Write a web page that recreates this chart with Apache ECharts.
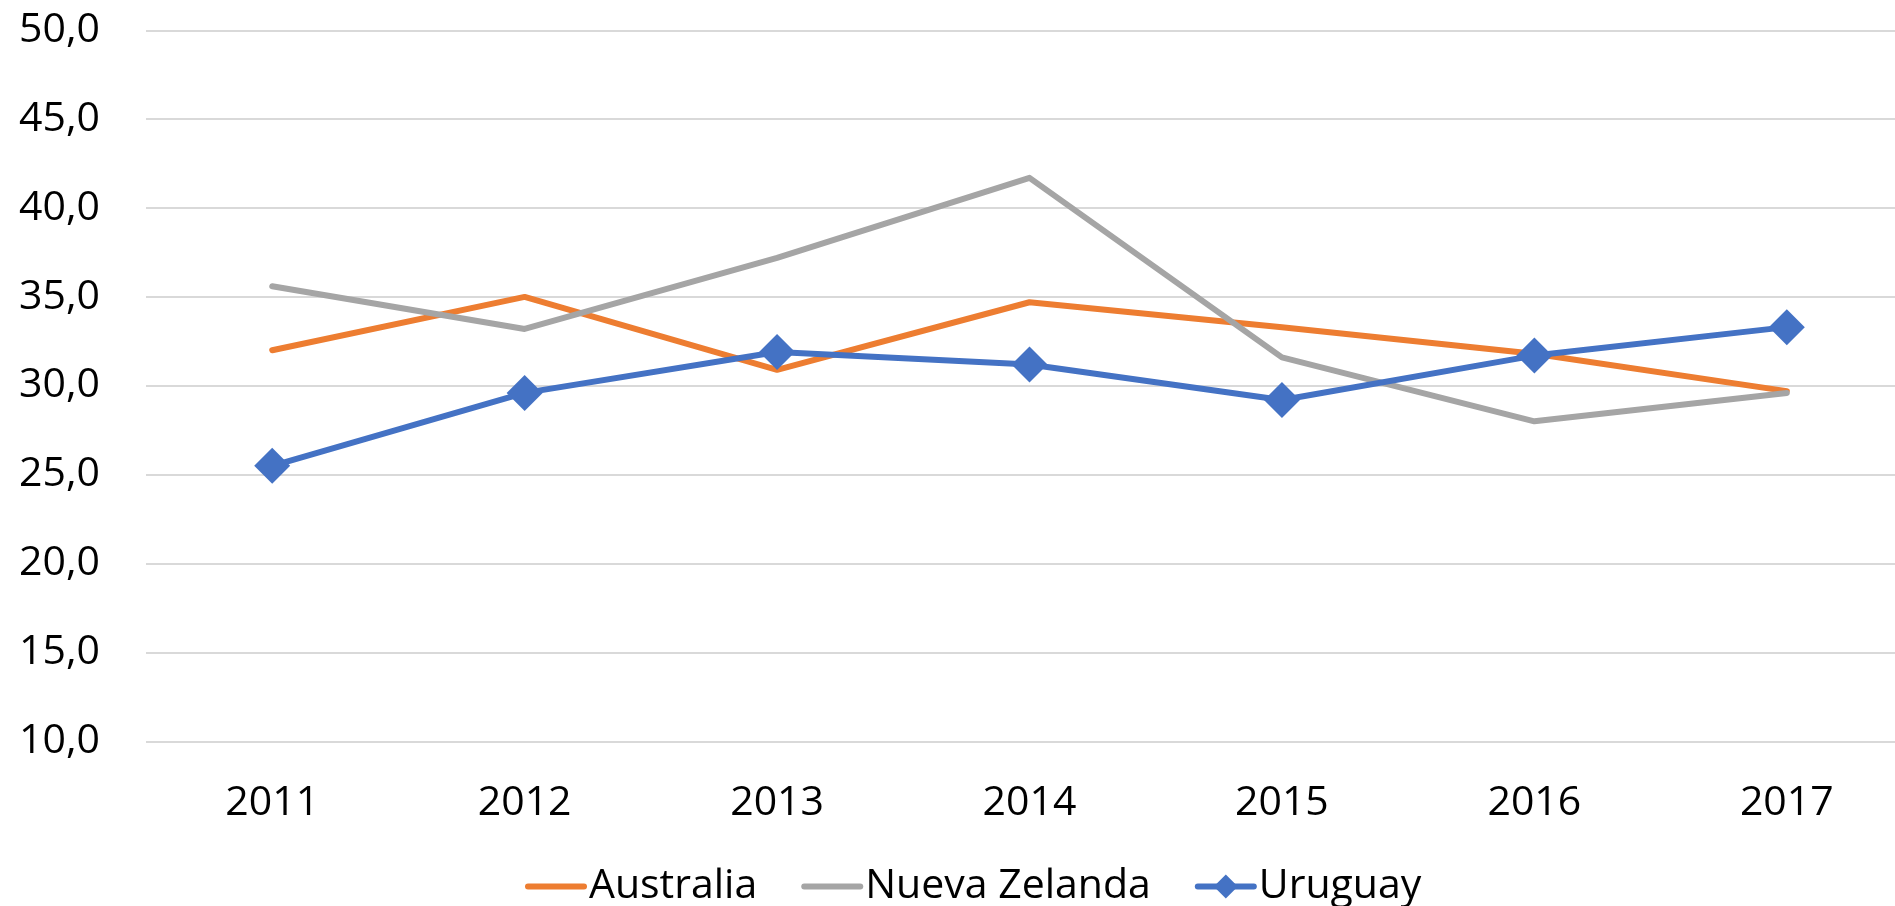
<!DOCTYPE html>
<html>
<head>
<meta charset="utf-8">
<title>Australia, Nueva Zelanda, Uruguay</title>
<script src="https://cdn.jsdelivr.net/npm/echarts@6/dist/echarts.min.js"></script>
<style>
    html, body { margin: 0; padding: 0; background: #fff; }
    #chart { width: 1895px; height: 906px; }
</style>
</head>
<body>
<div id="chart"></div>
<script>
    // datos
    var years = ['2011', '2012', '2013', '2014', '2015', '2016', '2017'];
    var australia = [32.0, 35.0, 30.9, 34.7, 33.3, 31.8, 29.7];
    var nuevaZelanda = [35.6, 33.2, 37.2, 41.7, 31.6, 28.0, 29.6];
    var uruguay = [25.5, 29.6, 31.9, 31.2, 29.2, 31.7, 33.3];

    var yMin = 10, yMax = 50, yStep = 5;

    var font = '"Open Sans", "Liberation Sans", sans-serif';
    var lineW = 6;

    var chart = echarts.init(document.getElementById('chart'));

    chart.setOption({
        animation: false,
        color: ['#ED7D31', '#A5A5A5', '#4472C4'],
        textStyle: { fontFamily: font },
        grid: {
            left: 146,
            top: 30.3,
            width: 1767,
            height: 711,
            outerBoundsMode: 'none',
            containLabel: false
        },
        legend: {
            left: 525,
            top: 866,
            padding: 0,
            itemWidth: 56,
            itemHeight: 30,
            itemGap: 44,
            lineStyle: { width: lineW, cap: 'round' },
            textStyle: { fontSize: 41, color: '#000', fontFamily: font },
            data: [
                // sin marcador en la leyenda para las dos primeras series
                { name: 'Australia', itemStyle: { opacity: 0 } },
                { name: 'Nueva Zelanda', itemStyle: { opacity: 0 } },
                { name: 'Uruguay' }
            ]
        },
        xAxis: {
            type: 'category',
            data: years,
            boundaryGap: true,
            axisLine: { show: false },
            axisTick: { show: false },
            axisLabel: { fontSize: 41, color: '#000', margin: 42, fontFamily: font }
        },
        yAxis: {
            type: 'value',
            min: yMin,
            max: yMax,
            interval: yStep,
            axisLine: { show: false },
            axisTick: { show: false },
            splitLine: { lineStyle: { color: '#D9D9D9', width: 2 } },
            axisLabel: {
                fontSize: 41,
                color: '#000',
                margin: 46,
                fontFamily: font,
                formatter: function (v) {
                    return v.toFixed(1).replace('.', ',');
                }
            }
        },
        series: [
            {
                name: 'Australia',
                type: 'line',
                data: australia,
                symbol: 'none',
                lineStyle: { width: lineW, cap: 'round', join: 'round' }
            },
            {
                name: 'Nueva Zelanda',
                type: 'line',
                data: nuevaZelanda,
                symbol: 'none',
                lineStyle: { width: lineW, cap: 'round', join: 'round' }
            },
            {
                name: 'Uruguay',
                type: 'line',
                data: uruguay,
                symbol: 'diamond',
                symbolSize: 36,
                lineStyle: { width: lineW, cap: 'round', join: 'round' }
            }
        ]
    });
</script>
</body>
</html>
